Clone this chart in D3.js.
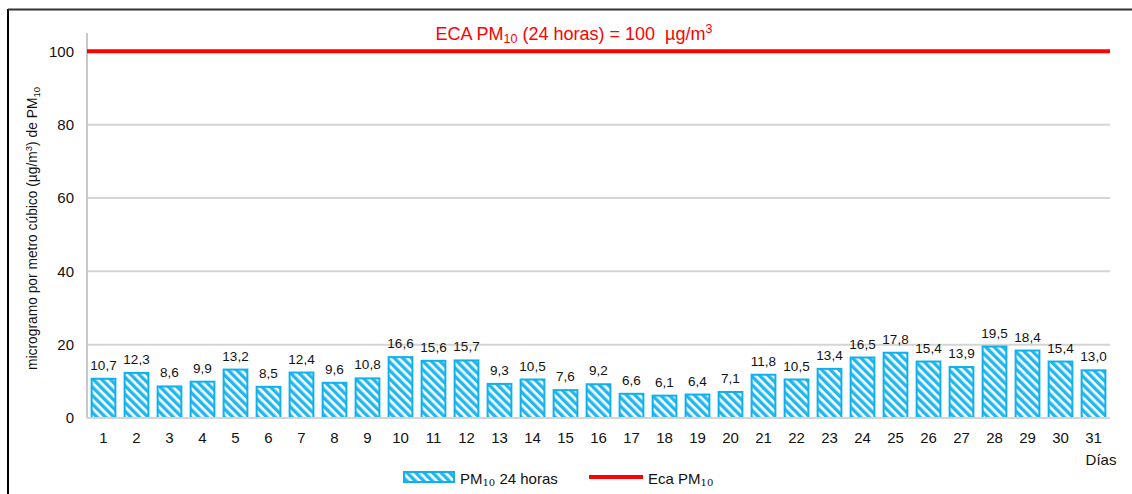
<!DOCTYPE html>
<html>
<head>
<meta charset="utf-8">
<script src="https://cdn.jsdelivr.net/npm/d3@7"></script>
<style>
  html, body { margin: 0; padding: 0; background: #fff; }
  svg { display: block; font-family: "Liberation Sans", Arial, sans-serif; }
  text { white-space: pre; }
</style>
</head>
<body>
<svg id="chart" width="1132" height="494"></svg>
<script>
// Daily PM10 concentrations (µg/m³), days 1–31
const days = d3.range(1, 32).map(String);
const pm10 = [10.7, 12.3, 8.6, 9.9, 13.2, 8.5, 12.4, 9.6, 10.8, 16.6,
              15.6, 15.7, 9.3, 10.5, 7.6, 9.2, 6.6, 6.1, 6.4, 7.1,
              11.8, 10.5, 13.4, 16.5, 17.8, 15.4, 13.9, 19.5, 18.4, 15.4, 13.0];
const ecaLimit = 100;
const yTicks = [0, 20, 40, 60, 80, 100];

const svg = d3.select("#chart");
const margin = { left: 87, right: 22, top: 33, bottom: 76 };
const W = 1132, H = 494;

// outer frame (left and top edges visible)
svg.append("line").attr("x1", 8).attr("x2", 8).attr("y1", 9).attr("y2", H)
  .attr("stroke", "#000").attr("stroke-width", 2);
svg.append("line").attr("x1", 8).attr("x2", W).attr("y1", 9.5).attr("y2", 9.5)
  .attr("stroke", "#333").attr("stroke-width", 2);

const x = d3.scaleBand().domain(days).range([margin.left, W - margin.right]).paddingInner(0.28).paddingOuter(0.14);
const y = d3.scaleLinear().domain([0, 105]).range([H - margin.bottom, margin.top]);

// hatch pattern for the bars
const defs = svg.append("defs");
const pat = defs.append("pattern").attr("id", "hatch")
  .attr("patternUnits", "userSpaceOnUse").attr("width", 6).attr("height", 6)
  .attr("patternTransform", "rotate(-45)");
pat.append("rect").attr("width", 6).attr("height", 6).attr("fill", "#fff");
pat.append("rect").attr("width", 3.4).attr("height", 6).attr("fill", "#22b8ee");

// gridlines
svg.append("g").selectAll("line").data(yTicks.filter(d => d < 100)).join("line")
  .attr("x1", margin.left).attr("x2", W - margin.right)
  .attr("y1", d => y(d)).attr("y2", d => y(d))
  .attr("stroke", "#d4d4d4").attr("stroke-width", 2);

// y axis line
svg.append("line").attr("x1", margin.left).attr("x2", margin.left)
  .attr("y1", y(105)).attr("y2", y(0))
  .attr("stroke", "#c8c8c8").attr("stroke-width", 2);

// y tick labels
const yAxis = d3.axisLeft(y).tickValues(yTicks).tickSize(0).tickPadding(13);
const gy = svg.append("g").attr("transform", `translate(${margin.left},0)`).call(yAxis);
gy.select(".domain").remove();
gy.selectAll("text").attr("font-size", 15).attr("fill", "#111")
  .attr("font-family", "Liberation Sans, Arial, sans-serif");

// bars
svg.append("g").selectAll("rect").data(pm10).join("rect")
  .attr("x", (d, i) => x(days[i]))
  .attr("y", d => y(d))
  .attr("width", x.bandwidth())
  .attr("height", d => y(0) - y(d))
  .attr("fill", "url(#hatch)")
  .attr("stroke", "#10b0ee").attr("stroke-width", 2);

// value labels
svg.append("g").selectAll("text").data(pm10).join("text")
  .attr("x", (d, i) => x(days[i]) + x.bandwidth() / 2)
  .attr("y", d => y(d) - 9)
  .attr("text-anchor", "middle").attr("font-size", 13.5).attr("fill", "#111")
  .text(d => d.toFixed(1).replace(".", ","));

// x tick labels
const xAxis = d3.axisBottom(x).tickSize(0).tickPadding(14);
const gx = svg.append("g").attr("transform", `translate(0,${y(0)})`).call(xAxis);
gx.select(".domain").remove();
gx.selectAll("text").attr("font-size", 15).attr("fill", "#111")
  .attr("font-family", "Liberation Sans, Arial, sans-serif");

// baseline
svg.append("line").attr("x1", margin.left).attr("x2", W - margin.right)
  .attr("y1", y(0)).attr("y2", y(0)).attr("stroke", "#d4d4d4").attr("stroke-width", 2);

// ECA limit line
svg.append("line").attr("x1", margin.left).attr("x2", W - margin.right)
  .attr("y1", y(ecaLimit)).attr("y2", y(ecaLimit))
  .attr("stroke", "#ff0000").attr("stroke-width", 4);

// ECA label
const t = svg.append("text").attr("x", 574).attr("y", 40).attr("text-anchor", "middle")
  .attr("font-size", 18).attr("fill", "#ff0000");
t.append("tspan").text("ECA PM");
t.append("tspan").attr("font-size", 12.5).attr("dy", 3).text("10");
t.append("tspan").attr("dy", -3).text(" (24 horas) = 100  µg/m");
t.append("tspan").attr("font-size", 12.5).attr("dy", -7).text("3");

// y axis title
const yt = svg.append("text")
  .attr("transform", `translate(37,${(y(0) + y(105)) / 2 + 3}) rotate(-90)`)
  .attr("text-anchor", "middle").attr("font-size", 13.8).attr("fill", "#111");
yt.append("tspan").text("microgramo por metro cúbico (µg/m");
yt.append("tspan").attr("font-size", 9.5).attr("dy", -5).text("3");
yt.append("tspan").attr("dy", 5).text(") de PM");
yt.append("tspan").attr("font-size", 9.5).attr("dy", 3).text("10");

// x axis title
svg.append("text").attr("x", 1101).attr("y", 465).attr("text-anchor", "middle")
  .attr("font-size", 15).attr("fill", "#111").text("Días");

// legend
const lg = svg.append("g");
lg.append("rect").attr("x", 404).attr("y", 472).attr("width", 50).attr("height", 10)
  .attr("fill", "url(#hatch)").attr("stroke", "#10b0ee").attr("stroke-width", 2);
const l1 = lg.append("text").attr("x", 460).attr("y", 484).attr("font-size", 15).attr("fill", "#111");
l1.append("tspan").text("PM");
l1.append("tspan").attr("font-size", 10).attr("dy", 2).attr("font-family", "DejaVu Serif, serif").text("10");
l1.append("tspan").attr("dy", -2).text(" 24 horas");
lg.append("line").attr("x1", 589).attr("x2", 643).attr("y1", 477).attr("y2", 477)
  .attr("stroke", "#ff0000").attr("stroke-width", 4);
const l2 = lg.append("text").attr("x", 648).attr("y", 484).attr("font-size", 15).attr("fill", "#111");
l2.append("tspan").text("Eca PM");
l2.append("tspan").attr("font-size", 10).attr("dy", 2).attr("font-family", "DejaVu Serif, serif").text("10");
</script>
</body>
</html>
